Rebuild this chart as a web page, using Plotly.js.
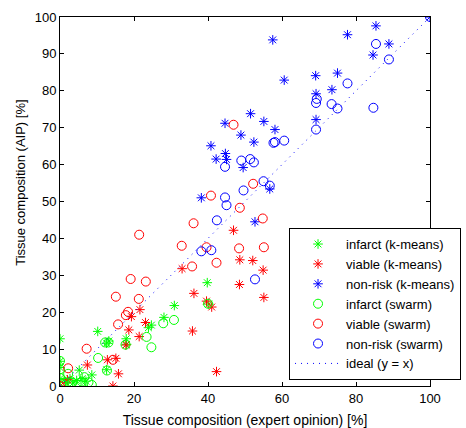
<!DOCTYPE html>
<html>
<head>
<meta charset="utf-8">
<script src="https://cdn.plot.ly/plotly-3.0.1.min.js"></script>
<style>html,body{margin:0;padding:0;background:#fff;}#chart{width:466px;height:428px;}</style>
</head>
<body>
<div id="chart"></div>
<script>
// Infarct, k-means (green stars)
const infarctKmX = [0, 0, 0, 0, 1.5, 2.7, 3.5, 4.5, 5.2, 6.0, 7.0, 8.6, 10.2, 12.6, 12.6, 13.2, 17.9, 18.0, 23.9, 24.7, 28.1, 30.9, 39.8, 40.2];
const infarctKmY = [12.8, 6.7, 5.0, 2.0, 1.0, 2.0, 0.8, 1.5, 4.3, 2.0, 1.3, 3.0, 14.8, 4.4, 11.6, 12.2, 12.8, 11.3, 15.8, 16.5, 18.6, 21.8, 28.0, 22.2];
// Viable, k-means (red stars)
const viableKmX = [0, 2.0, 7.4, 12.8, 15.1, 14.3, 15.8, 17.8, 18.6, 21.4, 19.3, 21.6, 23.1, 33.0, 36.2, 35.8, 39.6, 41.0, 42.3, 46.9, 48.6, 48.5, 52.1, 54.9, 55.1];
const viableKmY = [0, 1.7, 5.7, 7.1, 7.5, 0, 3.3, 11.1, 15.2, 13.4, 18.8, 20.7, 17.2, 31.8, 25.1, 14.9, 23.0, 21.4, 3.9, 42.2, 34.2, 27.5, 34.0, 31.4, 24.0];
// Non-risk, k-means (blue stars)
const nonriskKmX = [38.2, 40.8, 42.2, 44.6, 44.7, 45.0, 48.9, 49.5, 51.5, 52.4, 52.7, 55.1, 56.7, 57.5, 58.1, 60.6, 69.1, 69.2, 69.2, 73.5, 75.0, 77.7, 84.6, 85.4, 88.9, 100];
const nonriskKmY = [51.0, 65.1, 61.5, 71.2, 63.0, 61.4, 68.0, 59.2, 73.8, 66.1, 44.5, 71.7, 53.4, 93.8, 69.5, 82.9, 84.1, 79.2, 72.2, 80.3, 84.8, 95.2, 89.7, 97.6, 92.7, 100];
// Infarct, swarm (green circles)
const infarctSwX = [0, 0, 0, 0.5, 1.2, 2.2, 3.2, 4.5, 5.9, 6.6, 7.7, 8.6, 10.3, 12.7, 12.2, 13.1, 17.7, 23.4, 24.7, 27.9, 30.8, 40.0];
const infarctSwY = [6.8, 4.5, 2.2, 0.5, 1.0, 3.3, 1.0, 0.5, 1.2, 2.4, 1.0, 0.3, 7.6, 4.2, 11.8, 11.8, 11.2, 13.3, 10.5, 17.0, 17.9, 22.3];
// Viable, swarm (red circles)
const viableSwX = [0, 2.2, 7.2, 14.3, 15.7, 17.8, 18.4, 15.1, 21.3, 19.1, 23.2, 21.4, 32.9, 35.7, 36.1, 39.6, 40.8, 42.3, 46.9, 48.4, 48.6, 52.2, 54.8, 55.1];
const viableSwY = [0, 4.8, 10.1, 7.1, 16.7, 19.2, 20.1, 24.2, 23.6, 29.0, 28.3, 41.0, 38.0, 32.4, 44.1, 37.6, 51.6, 33.4, 70.8, 37.3, 48.3, 54.8, 45.4, 37.6];
// Non-risk, swarm (blue circles)
const nonriskSwX = [38.2, 40.9, 42.4, 44.6, 44.6, 45.0, 49.0, 49.6, 51.4, 52.4, 52.7, 55.0, 56.7, 57.7, 58.1, 60.6, 69.2, 69.2, 69.4, 73.4, 75.0, 77.7, 84.7, 85.4, 88.9, 100];
const nonriskSwY = [36.5, 36.8, 44.9, 51.1, 59.4, 49.0, 61.1, 53.0, 61.5, 60.6, 28.9, 55.5, 54.3, 65.9, 66.1, 66.5, 69.5, 76.7, 77.8, 76.4, 75.2, 82.0, 75.4, 92.7, 88.5, 100];
// Ideal line
const idealX = [0, 100];
const idealY = [0, 100];

const names = ['infarct (k-means)', 'viable (k-means)', 'non-risk (k-means)', 'infarct (swarm)', 'viable (swarm)', 'non-risk (swarm)', 'ideal (y = x)'];
const xTicks = [0, 20, 40, 60, 80, 100];
const yTicks = [0, 10, 20, 30, 40, 50, 60, 70, 80, 90, 100];
const xTitle = 'Tissue composition (expert opinion) [%]';
const yTitle = 'Tissue composition (AIP) [%]';

const GREEN = '#00ff00', RED = '#ff0000', BLUE = '#0000ff';
function star(x, y, c, n) {
  return {x: x, y: y, name: n, type: 'scatter', mode: 'markers',
    marker: {symbol: 'asterisk-open', size: 8, color: c, line: {width: 1, color: c}}};
}
function circ(x, y, c, n) {
  return {x: x, y: y, name: n, type: 'scatter', mode: 'markers',
    marker: {symbol: 'circle-open', size: 9, color: c, line: {width: 1, color: c}}};
}
const data = [
  star(infarctKmX, infarctKmY, GREEN, names[0]),
  star(viableKmX, viableKmY, RED, names[1]),
  star(nonriskKmX, nonriskKmY, BLUE, names[2]),
  circ(infarctSwX, infarctSwY, GREEN, names[3]),
  circ(viableSwX, viableSwY, RED, names[4]),
  circ(nonriskSwX, nonriskSwY, BLUE, names[5]),
  {x: idealX, y: idealY, name: names[6], type: 'scatter', mode: 'lines',
   line: {color: BLUE, width: 1, dash: '1px,5px'}}
];
const FONT = 'Liberation Sans, Arial, sans-serif';
const axisCommon = {
  range: [0, 100], showgrid: false, zeroline: false,
  showline: true, linecolor: '#000', linewidth: 1, mirror: 'ticks',
  ticks: 'inside', ticklen: 4, tickcolor: '#000', tickwidth: 1,
  tickfont: {family: FONT, size: 13, color: '#000'}, automargin: false
};
const layout = {
  width: 466, height: 428,
  margin: {l: 60, r: 36, t: 17, b: 42, autoexpand: false},
  paper_bgcolor: '#fff', plot_bgcolor: '#fff',
  font: {family: FONT, size: 14, color: '#000'},
  xaxis: Object.assign({}, axisCommon, {tickvals: xTicks, ticktext: xTicks.map(String),
    title: {text: xTitle, font: {family: FONT, size: 14, color: '#000'}, standoff: 10}}),
  yaxis: Object.assign({}, axisCommon, {tickvals: yTicks, ticktext: yTicks.map(String)}),
  annotations: [{
    text: yTitle, textangle: -90, showarrow: false,
    xref: 'paper', yref: 'paper', x: -0.105, y: 0.551, xanchor: 'center', yanchor: 'middle',
    font: {family: FONT, size: 13, color: '#000'}
  }],
  showlegend: true,
  legend: {x: 0.619, y: 0.428, xanchor: 'left', yanchor: 'top',
    bgcolor: '#fff', bordercolor: '#000', borderwidth: 1,
    font: {family: FONT, size: 13, color: '#000'}, itemwidth: 46, tracegroupgap: 0}
};
Plotly.newPlot('chart', data, layout, {staticPlot: true, displayModeBar: false});
</script>
</body>
</html>
